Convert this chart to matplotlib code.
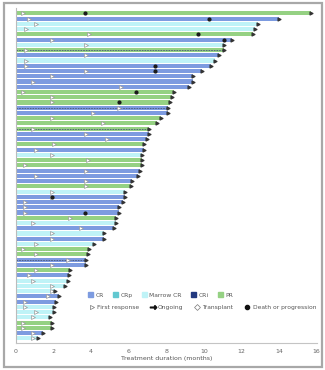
import matplotlib
matplotlib.use("Agg")
import matplotlib.pyplot as plt
from matplotlib.patches import Patch, Rectangle
from matplotlib.lines import Line2D

# response category per patient (top to bottom)
# CR, CRp, MCR (marrow CR), CRi, PR
response = ["PR", "CR", "MCR", "MCR", "PR", "CR", "MCR", "PR", "CR", "MCR",
            "CR", "CR", "CR", "CR", "CR", "PR", "PR", "PR", "CR", "CR",
            "PR", "PR", "PR", "CR", "CR", "PR", "CR", "MCR", "PR", "PR",
            "CR", "CR", "CR", "PR", "MCR", "CR", "CR", "CR", "CR", "PR",
            "MCR", "CR", "MCR", "CR", "MCR", "PR", "PR", "CR", "CR", "PR",
            "CR", "MCR", "MCR", "MCR", "CR", "CR", "MCR", "MCR", "MCR", "PR",
            "PR", "CR", "MCR"]

duration = [15.7, 14.0, 12.9, 12.7, 12.6, 11.5, 11.1, 11.1, 10.8, 10.6,
            10.4, 9.9, 9.4, 9.4, 9.2, 8.4, 8.3, 8.2, 8.1, 8.1,
            7.7, 7.5, 7.1, 7.1, 7.0, 6.8, 6.8, 6.7, 6.7, 6.7,
            6.6, 6.5, 6.2, 6.1, 5.8, 5.8, 5.7, 5.5, 5.5, 5.3,
            5.3, 5.2, 4.7, 4.7, 4.15, 3.9, 3.85, 3.75, 3.75, 2.9,
            2.8, 2.75, 2.6, 2.1, 2.3, 2.15, 2.0, 2.0, 1.8, 1.9,
            1.9, 1.45, 1.2]

first_response = [0.4, 0.7, 1.05, 0.55, 3.9, 1.9, 3.75, 0.55, 3.75, 0.55,
                  0.55, 3.75, 1.9, 0.9, 5.6, 0.4, 1.9, 1.9, 5.5, 4.1,
                  1.9, 4.65, 0.9, 3.75, 4.85, 2.05, 1.05, 1.9, 3.85, 0.5,
                  3.75, 1.05, 3.75, 3.75, 1.9, 1.9, 0.5, 0.5, 0.5, 2.9,
                  0.9, 3.45, 1.9, 1.9, 1.05, 0.4, 1.05, 2.75, 1.9, 1.05,
                  0.7, 0.9, 1.9, 1.9, 1.7, 0.5, 0.5, 1.05, 0.9, 0.4,
                  0.4, 0.9, 0.9]

# rows with a death or progression event, and when it happened (months)
death_rows = [0, 1, 4, 5, 10, 11, 15, 17, 35, 38]
death_time = [3.7, 10.3, 9.7, 11.1, 7.4, 7.4, 6.4, 5.5, 1.9, 3.7]

# rows shown with the dashed CRi overlay
cri_rows = [7, 18, 22, 47]

colors = {"CR": "#7d9be0", "CRp": "#62c8d0", "MCR": "#bff3f7",
          "CRi": "#22397f", "PR": "#95d183"}

fig = plt.figure(figsize=(3.25, 3.70), dpi=100)
ax = fig.add_axes([0.049, 0.073, 0.925, 0.905])

rows = list(range(len(duration)))
ax.barh(rows, duration, height=0.78, color=[colors[r] for r in response],
        edgecolor="none")

for r in cri_rows:
    ax.plot([0, duration[r]], [r, r], color="#4a5878", lw=0.6,
            dashes=(2, 1.2))

ax.scatter(first_response, rows, marker=">", s=8, facecolor="white",
           edgecolor="#999999", linewidths=0.5, zorder=3)
ax.scatter(duration, rows, marker=">", s=4, color="#333333", zorder=3)
ax.scatter(death_time, death_rows, marker="o", s=4, color="#1a1a1a", zorder=4)

ax.set_xlim(0, 16)
ax.set_ylim(62.9, -1.0)
ax.set_yticks([])
ax.set_xticks(range(0, 17, 2))
ax.tick_params(axis="x", labelsize=4.5, length=0, pad=4)
for lab in ax.get_xticklabels():
    lab.set_color("#666666")
ax.set_xlabel("Treatment duration (months)", fontsize=4.5, color="#555555",
              labelpad=2)
for side in ("top", "right"):
    ax.spines[side].set_visible(False)
ax.spines["left"].set_color("#bbbbbb")
ax.spines["bottom"].set_color("#c4c4c4")
ax.spines["left"].set_linewidth(0.8)
ax.spines["bottom"].set_linewidth(0.8)

# legend rows
resp_handles = [Patch(color=colors[k]) for k in ["CR", "CRp", "MCR", "CRi", "PR"]]
resp_labels = ["CR", "CRp", "Marrow CR", "CRi", "PR"]
fig.legend(resp_handles, resp_labels, ncol=5, frameon=False,
           loc="center left", bbox_to_anchor=(0.255, 0.203),
           fontsize=4.3, handlelength=0.8, handleheight=0.8,
           handletextpad=0.4, columnspacing=1.6, labelcolor="#555555")

event_handles = [
    Line2D([], [], ls="none", marker=">", markersize=3, mfc="white",
           mec="#777777", mew=0.5),
    Line2D([], [], ls="none", marker=r"$\rightarrow$", markersize=4.5,
           color="#111111"),
    Line2D([], [], ls="none", marker="D", markersize=3, mfc="white",
           mec="#777777", mew=0.5),
    Line2D([], [], ls="none", marker="o", markersize=3, color="#111111"),
]
event_labels = ["First response", "Ongoing", "Transplant", "Death or progression"]
fig.legend(event_handles, event_labels, ncol=4, frameon=False,
           loc="center left", bbox_to_anchor=(0.255, 0.170),
           fontsize=4.3, handlelength=1.1, handletextpad=0.3,
           columnspacing=1.8, labelcolor="#555555")

# grey picture frame around the whole figure
fig.patches.append(Rectangle((0.012, 0.008), 0.978, 0.984,
                             transform=fig.transFigure, fill=False,
                             edgecolor="#a8a8a8", lw=1.6))

fig.savefig("out.png", dpi=100)
